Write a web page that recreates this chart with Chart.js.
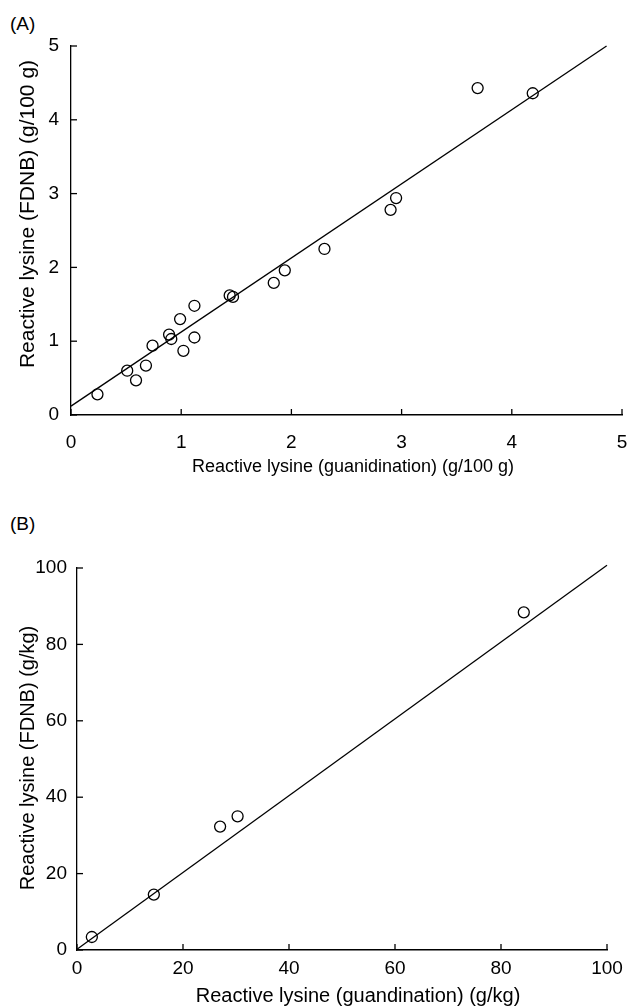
<!DOCTYPE html>
<html>
<head>
<meta charset="utf-8">
<script src="https://cdn.jsdelivr.net/npm/chart.js@4.4.1/dist/chart.umd.min.js"></script>
<style>
  html, body { margin: 0; padding: 0; background: #fff; }
  body { width: 630px; height: 1008px; position: relative; overflow: hidden; font-family: "Liberation Sans", Arial, sans-serif; }
  canvas { position: absolute; left: 0; }
  #chartA { top: 0; }
  #chartB { top: 520px; }
  .panel { position: absolute; left: 10px; font-size: 19px; color: #000; }
</style>
</head>
<body>
<div class="panel" style="top:13px">(A)</div>
<div class="panel" style="top:513px">(B)</div>
<canvas id="chartA" width="630" height="490"></canvas>
<canvas id="chartB" width="630" height="488"></canvas>
<script>
// (A) g/100 g
var guanA = [0.24, 0.51, 0.59, 0.68, 0.74, 0.89, 0.91, 0.99, 1.02, 1.12, 1.12, 1.44, 1.47, 1.84, 1.94, 2.30, 2.90, 2.95, 3.69, 4.19];
var fdnbA = [0.28, 0.60, 0.47, 0.67, 0.94, 1.09, 1.03, 1.30, 0.87, 1.48, 1.05, 1.62, 1.60, 1.79, 1.96, 2.25, 2.78, 2.94, 4.43, 4.36];
var fitAx = [0, 4.86];
var fitAy = [0.12, 5.0];

// (B) g/kg
var guanB = [2.8, 14.5, 27.0, 30.3, 84.3];
var fdnbB = [3.4, 14.5, 32.3, 35.0, 88.4];
var fitBx = [0, 100];
var fitBy = [0.2, 100.7];

function pts(xs, ys) {
    return xs.map(function (x, i) { return { x: x, y: ys[i] }; });
}

// tick marks pointing into the plot + axis titles
var axisDecor = {
    id: 'axisDecor',
    afterDraw: function (chart, args, o) {
        var ctx = chart.ctx, a = chart.chartArea;
        ctx.save();
        ctx.strokeStyle = '#000';
        ctx.lineWidth = 1.3;
        chart.scales.x.ticks.forEach(function (t) {
            var px = chart.scales.x.getPixelForValue(t.value);
            ctx.beginPath(); ctx.moveTo(px, a.bottom); ctx.lineTo(px, a.bottom - 6); ctx.stroke();
        });
        chart.scales.y.ticks.forEach(function (t) {
            var py = chart.scales.y.getPixelForValue(t.value);
            ctx.beginPath(); ctx.moveTo(a.left, py); ctx.lineTo(a.left + 6, py); ctx.stroke();
        });
        ctx.fillStyle = '#000';
        ctx.textAlign = 'center';
        ctx.textBaseline = 'middle';
        ctx.font = o.xsize + 'px "Liberation Sans"';
        ctx.fillText(o.xtitle, o.xt[0], o.xt[1]);
        ctx.translate(o.yt[0], o.yt[1]);
        ctx.rotate(-Math.PI / 2);
        ctx.font = o.ysize + 'px "Liberation Sans"';
        ctx.fillText(o.ytitle, 0, 0);
        ctx.restore();
    }
};

function makeChart(id, cfg) {
    var ctx = document.getElementById(id).getContext('2d');
    return new Chart(ctx, {
        type: 'scatter',
        data: {
            datasets: [{
                data: pts(cfg.xs, cfg.ys),
                pointRadius: 5.5,
                pointHoverRadius: 5.5,
                pointBorderWidth: 1.3,
                pointBorderColor: '#000',
                pointBackgroundColor: 'rgba(0,0,0,0)'
            }, {
                type: 'line',
                data: pts(cfg.fx, cfg.fy),
                borderColor: '#000',
                borderWidth: 1.3,
                pointRadius: 0,
                fill: false,
                clip: false
            }]
        },
        options: {
            responsive: false,
            animation: false,
            layout: { padding: { top: cfg.top, right: cfg.right, left: 0, bottom: 0 } },
            plugins: {
                legend: { display: false },
                tooltip: { enabled: false },
                axisDecor: { xtitle: cfg.xtitle, ytitle: cfg.ytitle, xt: cfg.xt, yt: cfg.yt, xsize: cfg.xsize, ysize: cfg.ysize }
            },
            scales: {
                x: {
                    type: 'linear', min: cfg.min, max: cfg.max,
                    afterFit: function (s) { s.height = cfg.xh; s.paddingLeft = 0; s.paddingRight = 0; },
                    grid: { display: false, drawTicks: false },
                    border: { color: '#000', width: 1.6 },
                    ticks: { stepSize: cfg.step, padding: cfg.xpad, color: '#000', font: { family: 'Liberation Sans', size: cfg.tick } }
                },
                y: {
                    type: 'linear', min: cfg.min, max: cfg.max,
                    afterFit: function (s) { s.width = cfg.yw; s.paddingTop = 0; s.paddingBottom = 0; },
                    grid: { display: false, drawTicks: false },
                    border: { color: '#000', width: 1.3 },
                    ticks: { stepSize: cfg.step, padding: cfg.ypad, color: '#000', font: { family: 'Liberation Sans', size: cfg.tick } }
                }
            }
        },
        plugins: [axisDecor]
    });
}

makeChart('chartA', {
    xs: guanA, ys: fdnbA, fx: fitAx, fy: fitAy,
    min: 0, max: 5, step: 1,
    top: 46, right: 8, xh: 75, yw: 71,
    xpad: 16, ypad: 12, tick: 19,
    xtitle: 'Reactive lysine (guanidination) (g/100 g)', xt: [353, 467], xsize: 18,
    ytitle: 'Reactive lysine (FDNB) (g/100 g)', yt: [28, 214], ysize: 21
});

makeChart('chartB', {
    xs: guanB, ys: fdnbB, fx: fitBx, fy: fitBy,
    min: 0, max: 100, step: 20,
    top: 48, right: 23, xh: 58, yw: 77,
    xpad: 7, ypad: 10, tick: 19,
    xtitle: 'Reactive lysine (guandination) (g/kg)', xt: [358, 476], xsize: 20,
    ytitle: 'Reactive lysine (FDNB) (g/kg)', yt: [28, 238], ysize: 20
});
</script>
</body>
</html>
